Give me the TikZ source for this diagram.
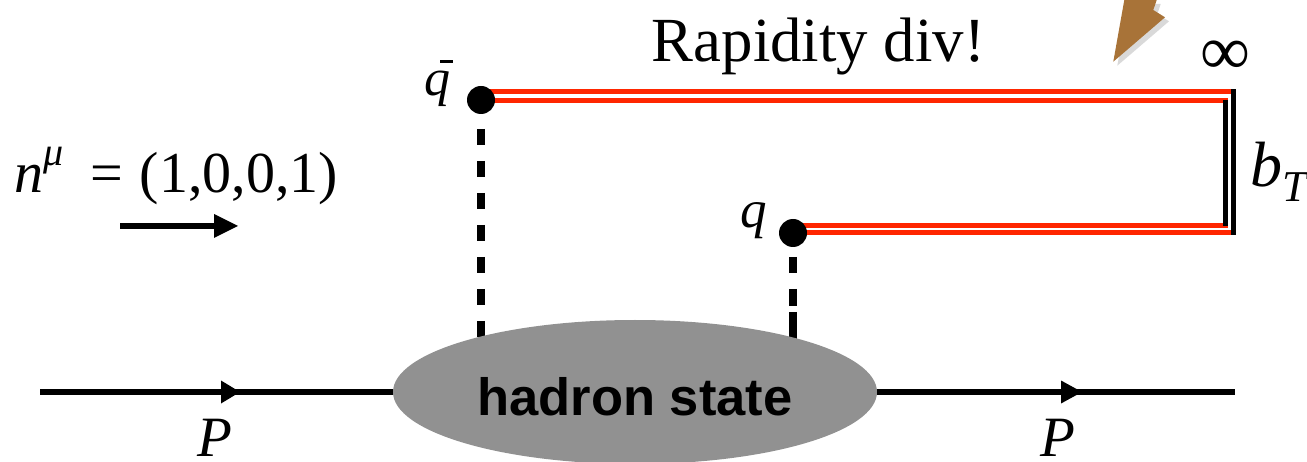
\documentclass[tikz,border=0pt]{standalone}
\usepackage{fontspec}
\setmainfont{Liberation Serif}
\setsansfont{Liberation Sans}
\usetikzlibrary{shapes.geometric,backgrounds}
\definecolor{wilson}{RGB}{255,38,0}
\definecolor{hgray}{RGB}{145,145,145}
\definecolor{brownarrow}{RGB}{168,115,56}
\begin{document}
\begin{tikzpicture}[x=1pt,y=-1pt,
  txt/.style={inner sep=0pt,outer sep=0pt},
  dot/.style={circle,fill=black,inner sep=0pt,minimum size=28pt},
  pline/.style={line width=5.5pt,black},
  wl/.style={line width=5pt,wilson},
  bl/.style={line width=5pt,black},
  dl/.style={line width=7.5pt,black,dash pattern=on 16pt off 16pt},
  blob/.style={ellipse,fill=hgray,inner sep=0pt,minimum width=484pt,minimum height=144pt,
    font=\sffamily\bfseries\fontsize{52.5}{60}\selectfont,text height=46pt,text depth=0pt}]
\useasboundingbox (0,0) rectangle (1307,462);

% hadron blob
\node[blob] (hs) at (635,392) {hadron state};

% quark dots
\node[dot] (qb) at (481,100) {};
\node[dot] (q) at (793,233) {};

% corners of the Wilson line staple
\coordinate (ot) at (1235.5,91.8);
\coordinate (it) at (1228,100.8);
\coordinate (ib) at (1228,225.5);
\coordinate (ob) at (1235.5,232.3);
\coordinate (vo1) at (1233,89.3);
\coordinate (vo2) at (1233,234.8);
\coordinate (vi1) at (1225.5,100.3);
\coordinate (vi2) at (1225.5,225.7);

% momentum line
\coordinate (pl) at (40,392);
\coordinate (pa1) at (240,392);
\coordinate (pa2) at (1082,392);
\coordinate (pr) at (1235,392);
\draw[pline] (pl) -- (hs.west);
\draw[pline] (hs.east) -- (pr);
\fill (pa1) -- ++(-19,-11.5) -- ++(0,23) -- cycle;
\fill (pa2) -- ++(-21,-11.5) -- ++(0,23) -- cycle;

\begin{scope}[on background layer]
  \draw[dl] ([yshift=-29pt]qb.center) -- (qb |- hs.center);
  \draw[dl,dash pattern=on 16pt off 16pt on 17pt off 6pt on 60pt] ([yshift=-24pt]q.center) -- (q |- hs.center);
  \draw[wl] (qb.center |- ot) -- (ot);
  \draw[wl] (qb.center |- it) -- (it);
  \draw[wl] (q.center |- ib) -- (ib);
  \draw[wl] (q.center |- ob) -- (ob);
  \draw[bl] (vo1) -- (vo2);
  \draw[bl] (vi1) -- (vi2);
\end{scope}

% direction arrow
\coordinate (na1) at (120,226);
\coordinate (na2) at (238,226);
\draw[pline] (na1) -- ([xshift=-20pt]na2);
\fill (na2) -- ++(-24,-12) -- ++(0,24) -- cycle;

% brown arrow (cut off at the top)
\fill[black,opacity=0.15,shift={(4,4)}] (1124.3,0) -- (1113.3,61.7) -- (1165,17.3) -- (1153.3,10) -- (1156.7,0) -- cycle;
\fill[brownarrow] (1124.3,0) -- (1113.3,61.7) -- (1165,17.3) -- (1153.3,10) -- (1156.7,0) -- cycle;

% labels
\node[txt,anchor=base,font=\fontsize{62.8}{70}\selectfont] (rd) at (818.5,62) {Rapidity div!};
\node[txt,font=\fontsize{70}{80}\selectfont] (inf) at (1225,57.5) {∞};
\node[txt,anchor=base west,font=\fontsize{64}{70}\selectfont] (bt) at (1250,187) {\textit{b}\raisebox{-15pt}{\fontsize{44}{50}\selectfont\textit{T}}};
\node[txt,anchor=base west,font=\fontsize{52}{60}\selectfont] (lqb) at (424,96) {\textit{q}\hspace{3pt}\llap{\raisebox{33pt}{\rule{13pt}{3pt}}}};
\node[txt,anchor=base west,font=\fontsize{53}{60}\selectfont] (lq) at (740,228) {\textit{q}};
\node[txt,anchor=base west,font=\fontsize{58}{66}\selectfont] (nmu) at (14,193) {\makebox[72pt][l]{\textit{n}\raisebox{27pt}{\fontsize{40}{46}\selectfont\textit{μ}}}\makebox[41pt][c]{=}\hspace{13pt}(1,0,0,1)};
\node[txt,anchor=base west,font=\fontsize{57}{64}\selectfont] (p1) at (197,456) {\textit{P}};
\node[txt,anchor=base west,font=\fontsize{57}{64}\selectfont] (p2) at (1040,456) {\textit{P}};
\end{tikzpicture}
\end{document}
